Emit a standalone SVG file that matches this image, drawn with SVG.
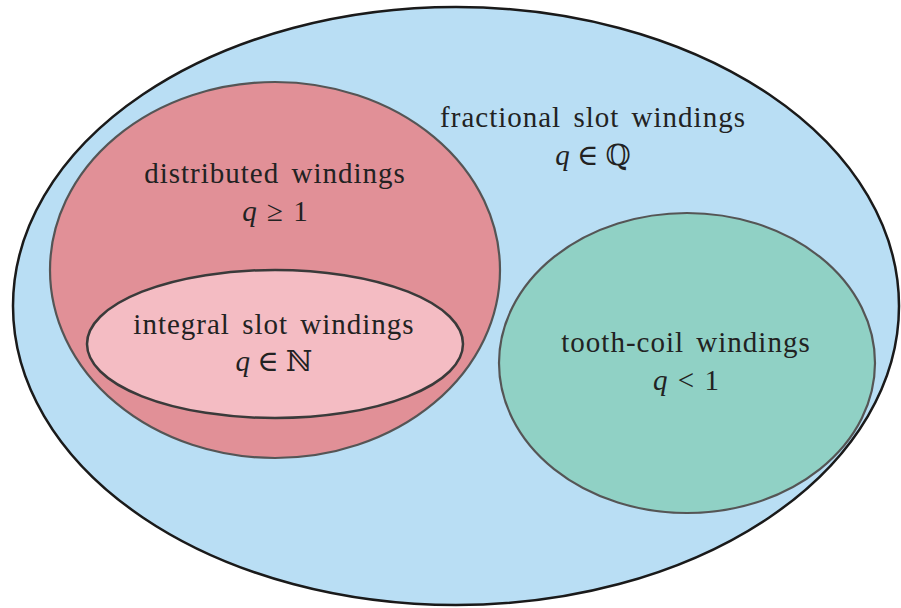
<svg xmlns="http://www.w3.org/2000/svg" width="901" height="608" viewBox="0 0 901 608">
<style>
.lbl{font-family:"Liberation Serif","DejaVu Serif",serif;font-size:29px;fill:#222;text-anchor:middle}
.w{letter-spacing:1px;word-spacing:4px}
.m{word-spacing:3px}
.q{font-style:italic}
.set{stroke:#555;stroke-width:2.2}
</style>
<rect width="901" height="608" fill="#fff"/>
<g id="fractional">
<ellipse cx="456" cy="306" rx="443" ry="299" fill="#b9def4" stroke="#1a1a1a" stroke-width="2.5"/>
<text class="lbl w" x="593" y="127">fractional slot windings</text>
<text class="lbl" x="593" y="165"><tspan class="q">q</tspan> ∈ ℚ</text>
</g>
<g id="distributed">
<ellipse class="set" cx="275" cy="270" rx="225" ry="188" fill="#e19097"/>
<text class="lbl w" x="275" y="183">distributed windings</text>
<text class="lbl m" x="275" y="221"><tspan class="q">q</tspan> ≥ 1</text>
</g>
<g id="integral">
<ellipse cx="275" cy="344" rx="188" ry="74" fill="#f4bcc3" stroke="#3a3a3a" stroke-width="2.5"/>
<text class="lbl w" x="274" y="334">integral slot windings</text>
<text class="lbl" x="274" y="371"><tspan class="q">q</tspan> ∈ ℕ</text>
</g>
<g id="toothcoil">
<ellipse class="set" cx="687" cy="363" rx="188" ry="150" fill="#90d1c5"/>
<text class="lbl w" x="686" y="352">tooth-coil windings</text>
<text class="lbl m" x="686" y="390"><tspan class="q">q</tspan> &lt; 1</text>
</g>
<g id="connectors"/>
</svg>
